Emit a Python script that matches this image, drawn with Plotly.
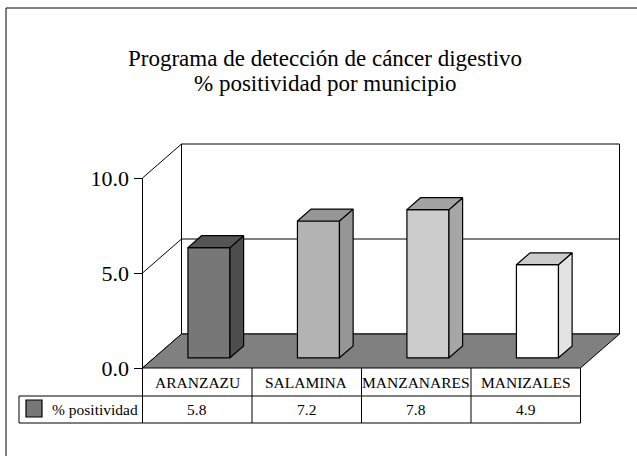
import plotly.graph_objects as go

# ---------------- data ----------------
categories = ["ARANZAZU", "SALAMINA", "MANZANARES", "MANIZALES"]
values = [5.8, 7.2, 7.8, 4.9]
series_name = "% positividad"
title_lines = ["Programa de detección de cáncer digestivo", "% positividad por municipio"]
y_tickvals = [0, 5, 10]
y_ticktext = ["0.0", "5.0", "10.0"]

# ---------------- styles ----------------
front_colors = ["#777777", "#b3b3b3", "#cccccc", "#ffffff"]
side_colors = ["#4d4d4d", "#969696", "#a6a6a6", "#e3e3e3"]
top_colors = ["#555555", "#969696", "#a3a3a3", "#cccccc"]
floor_color = "#808080"
FONT = "Liberation Serif, Times New Roman, serif"

W, H = 637, 456
PX_X = 109.5          # pixels per category unit
PX_Y = 19.0           # pixels per value unit
X0_PX = 142.5         # pixel of the front-left corner
Y0_PX = 368.0         # pixel of the value 0 on the front plane
xmin = -0.5 - X0_PX / PX_X
xmax = xmin + W / PX_X
ymax = Y0_PX / PX_Y
ymin = ymax - H / PX_Y

DX = 39 / PX_X        # depth offset of the chart box (x units)
DY = 34 / PX_Y        # depth offset of the chart box (y units)
BAR_Z0 = 0.30         # depth fraction where bar front face sits
BAR_DZ = 0.35         # bar depth fraction
BAR_W = 0.384
YMAXV = 10

n = len(categories)
left_edge = -0.5
right_edge = n - 0.5
ROW1_Y = (Y0_PX - 396) / PX_Y
ROW2_Y = (Y0_PX - 423) / PX_Y
LEG_LEFT = xmin + 19 / PX_X

fig = go.Figure()

# front faces of the bars
bar_x = [i + BAR_Z0 * DX for i in range(n)]
bar_base = BAR_Z0 * DY
fig.add_trace(go.Bar(
    x=bar_x, y=values, base=[bar_base] * n, width=BAR_W,
    marker=dict(color=front_colors, line=dict(color="black", width=1.2)),
    hoverinfo="skip", showlegend=False, name=series_name,
))

# side and top faces (computed from the values)
ddx, ddy = BAR_DZ * DX, BAR_DZ * DY
for i, v in enumerate(values):
    xl = bar_x[i] - BAR_W / 2
    xr = bar_x[i] + BAR_W / 2
    top = bar_base + v
    fig.add_trace(go.Scatter(
        x=[xr, xr, xr + ddx, xr + ddx, xr],
        y=[bar_base, top, top + ddy, bar_base + ddy, bar_base],
        mode="lines", fill="toself", fillcolor=side_colors[i],
        line=dict(color="black", width=1.2), hoverinfo="skip", showlegend=False))
    fig.add_trace(go.Scatter(
        x=[xl, xr, xr + ddx, xl + ddx, xl],
        y=[top, top, top + ddy, top + ddy, top],
        mode="lines", fill="toself", fillcolor=top_colors[i],
        line=dict(color="black", width=1.2), hoverinfo="skip", showlegend=False))

shapes = []
ln = dict(color="black", width=1)
# back wall
shapes.append(dict(type="rect", xref="x", yref="y", x0=left_edge + DX, x1=right_edge + DX,
                   y0=DY, y1=YMAXV + DY, fillcolor="white", line=ln, layer="below"))
# side wall
shapes.append(dict(type="path", xref="x", yref="y",
                   path=f"M {left_edge},0 L {left_edge},{YMAXV} L {left_edge+DX},{YMAXV+DY} L {left_edge+DX},{DY} Z",
                   fillcolor="white", line=ln, layer="below"))
# gridline at 5
for gv in y_tickvals[1:-1]:
    shapes.append(dict(type="line", xref="x", yref="y", x0=left_edge + DX, x1=right_edge + DX,
                       y0=gv + DY, y1=gv + DY, line=ln, layer="below"))
    shapes.append(dict(type="line", xref="x", yref="y", x0=left_edge, x1=left_edge + DX,
                       y0=gv, y1=gv + DY, line=ln, layer="below"))
# floor
shapes.append(dict(type="path", xref="x", yref="y",
                   path=f"M {left_edge},0 L {right_edge},0 L {right_edge+DX},{DY} L {left_edge+DX},{DY} Z",
                   fillcolor=floor_color, line=ln, layer="below"))
# data table
for k in range(n + 1):
    shapes.append(dict(type="line", xref="x", yref="y", x0=left_edge + k, x1=left_edge + k,
                       y0=0, y1=ROW2_Y, line=ln, layer="above"))
for yy in (ROW1_Y, ROW2_Y):
    shapes.append(dict(type="line", xref="x", yref="y", x0=LEG_LEFT, x1=right_edge,
                       y0=yy, y1=yy, line=ln, layer="above"))
shapes.append(dict(type="line", xref="x", yref="y", x0=LEG_LEFT, x1=LEG_LEFT,
                   y0=ROW1_Y, y1=ROW2_Y, line=ln, layer="above"))
# legend key in table
shapes.append(dict(type="rect", xref="x", yref="y",
                   x0=xmin + 26 / PX_X, x1=xmin + 42 / PX_X,
                   y0=(Y0_PX - 400) / PX_Y, y1=(Y0_PX - 417) / PX_Y,
                   fillcolor=front_colors[0], line=dict(color="black", width=1.2), layer="above"))
# outer border of the chart area
shapes.append(dict(type="rect", xref="paper", yref="paper", x0=6 / W, x1=1.05,
                   y0=-0.05, y1=1 - 8 / H, line=ln, fillcolor="rgba(0,0,0,0)", layer="below"))

annotations = []
for j, (t, py) in enumerate(zip(title_lines, [58.5, 83.5])):
    annotations.append(dict(text=t, xref="paper", yref="paper", x=325 / W, y=1 - py / H,
                            xanchor="center", yanchor="middle", showarrow=False,
                            font=dict(family=FONT, size=23, color="black")))
for i, c in enumerate(categories):
    annotations.append(dict(text=c, xref="x", yref="y", x=i, y=ROW1_Y / 2,
                            xanchor="center", yanchor="middle", showarrow=False,
                            font=dict(family=FONT, size=15.5, color="black")))
    annotations.append(dict(text=f"{values[i]:.1f}", xref="x", yref="y", x=i,
                            y=(ROW1_Y + ROW2_Y) / 2, xanchor="center", yanchor="middle",
                            showarrow=False, font=dict(family=FONT, size=15.5, color="black")))
annotations.append(dict(text=series_name, xref="x", yref="y", x=xmin + 50 / PX_X,
                        y=(ROW1_Y + ROW2_Y) / 2, xanchor="left", yanchor="middle",
                        showarrow=False, font=dict(family=FONT, size=15.5, color="black")))

fig.update_layout(
    width=W, height=H, autosize=False,
    margin=dict(l=0, r=0, t=0, b=0),
    paper_bgcolor="white", plot_bgcolor="white",
    showlegend=False,
    xaxis=dict(range=[xmin, xmax], visible=False, fixedrange=True),
    yaxis=dict(range=[ymin, ymax], anchor="free", position=X0_PX / W, side="left",
               tickvals=y_tickvals, ticktext=y_ticktext, ticks="outside", ticklen=9,
               tickwidth=1, tickcolor="black", showline=False, showgrid=False,
               zeroline=False, tickfont=dict(family=FONT, size=22, color="black"),
               fixedrange=True),
    shapes=shapes, annotations=annotations,
    barmode="overlay",
)

fig.write_html(
    "out.html",
    config={"displayModeBar": False},
    post_script="document.body.style.margin='0';document.body.style.overflow='hidden';",
)
